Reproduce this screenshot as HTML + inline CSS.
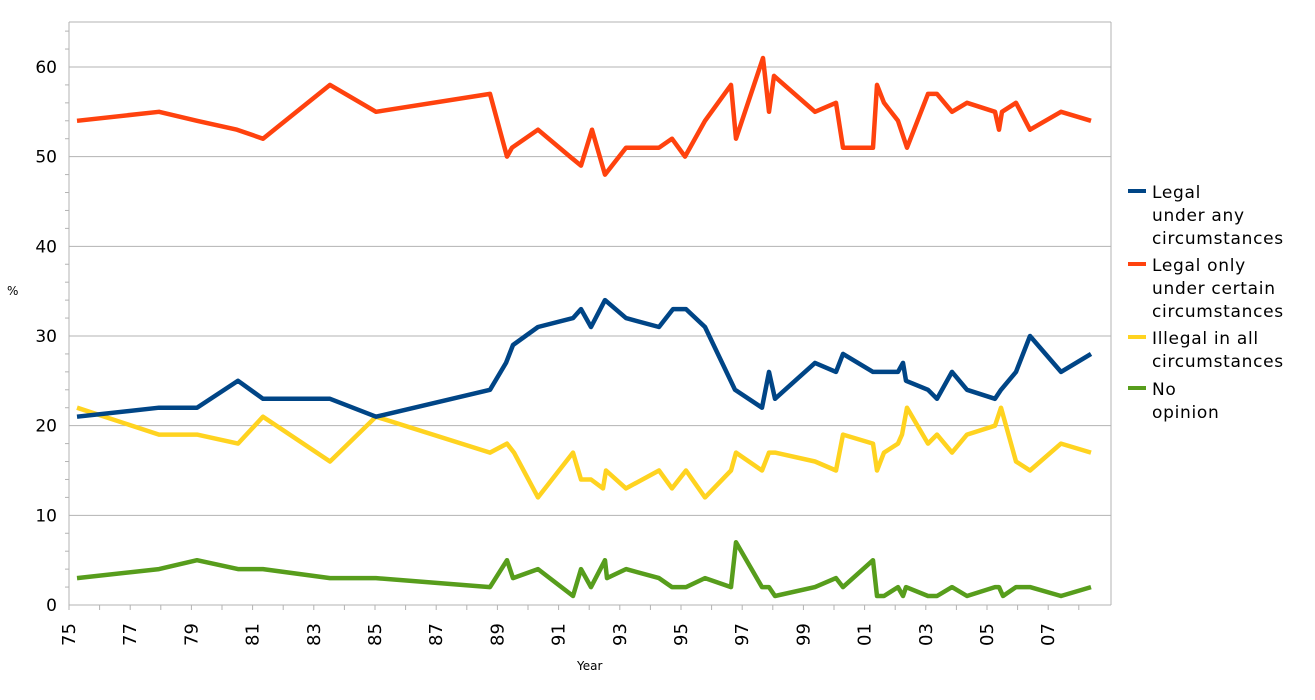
<!DOCTYPE html>
<html><head><meta charset="utf-8"><style>
body{margin:0;background:#fff;}
svg{display:block;font-family:"DejaVu Sans","Liberation Sans",sans-serif;}
</style></head><body>
<svg id="s" width="1315" height="700" xmlns="http://www.w3.org/2000/svg">
<rect width="1315" height="700" fill="#fff"/>
<g id="grid" stroke="#b3b3b3" stroke-width="1"></g>
<g id="series" fill="none" stroke-width="4.5" stroke-linejoin="round"></g>
<g font-size="17" letter-spacing="0.7" fill="#000">
<line x1="1128" y1="191" x2="1146" y2="191" stroke="#004586" stroke-width="4"/>
<text x="1152" y="198">Legal</text><text x="1152" y="221">under any</text><text x="1152" y="244">circumstances</text>
<line x1="1128" y1="264" x2="1146" y2="264" stroke="#ff420e" stroke-width="4"/>
<text x="1152" y="271">Legal only</text><text x="1152" y="294">under certain</text><text x="1152" y="317">circumstances</text>
<line x1="1128" y1="337" x2="1146" y2="337" stroke="#ffd320" stroke-width="4"/>
<text x="1152" y="344">Illegal in all</text><text x="1152" y="367">circumstances</text>
<line x1="1128" y1="388" x2="1146" y2="388" stroke="#579d1c" stroke-width="4"/>
<text x="1152" y="395">No</text><text x="1152" y="418">opinion</text>
</g>
<text x="7" y="295" font-size="12">%</text>
<text x="577" y="670" font-size="12">Year</text>
</svg>
<script>
const NS="http://www.w3.org/2000/svg";
const s=document.getElementById('s'),g=document.getElementById('grid'),se=document.getElementById('series');
function el(p,t,a){const e=document.createElementNS(NS,t);for(const k in a)e.setAttribute(k,a[k]);p.appendChild(e);return e;}
const L=69,R=1111,T=22,B=605,Y=v=>B-v*8.967;
for(let v=0;v<=60;v+=10){el(g,'line',{x1:L,x2:R,y1:Y(v),y2:Y(v)});
 const t=el(s,'text',{x:L-12,y:Y(v)+6,'font-size':17,'text-anchor':'end'});t.textContent=v;}
for(let v=0;v<=65;v+=2){if(v%10)el(g,'line',{x1:L-4,x2:L,y1:Y(v),y2:Y(v)});}
el(g,'line',{x1:L,x2:L,y1:T,y2:B+5});el(g,'line',{x1:R,x2:R,y1:T,y2:B});el(g,'line',{x1:L,x2:R,y1:T,y2:T});
for(let i=0;i<=33;i++){const x=L+i*30.6;el(g,'line',{x1:x,x2:x,y1:B,y2:B+5});
 if(i%2==0){const yr=(75+i)%100;const lab=(yr<10?'0':'')+yr;const t=el(s,'text',{'font-size':18,transform:`translate(${x+6},${B+41}) rotate(-90)`});t.textContent=lab;}}
const D={
"#ff420e":[[77,54],[159,55],[197,54],[237,53],[263,52],[330,58],[376,55],[490,57],[507,50],[512,51],[538,53],[570,50],[581,49],[592,53],[605,48],[626,51],[659,51],[672,52],[685,50],[705,54],[731,58],[736,52],[763,61],[769,55],[774,59],[815,55],[836,56],[843,51],[873,51],[877,58],[884,56],[898,54],[907,51],[928,57],[937,57],[952,55],[967,56],[995,55],[999,53],[1002,55],[1016,56],[1030,53],[1061,55],[1091,54]],
"#004586":[[77,21],[159,22],[197,22],[238,25],[263,23],[330,23],[376,21],[490,24],[506,27],[513,29],[538,31],[573,32],[581,33],[591,31],[605,34],[626,32],[659,31],[673,33],[686,33],[705,31],[735,24],[762,22],[769,26],[775,23],[815,27],[836,26],[843,28],[873,26],[898,26],[903,27],[906,25],[928,24],[937,23],[952,26],[967,24],[995,23],[1001,24],[1016,26],[1030,30],[1061,26],[1091,28]],
"#ffd320":[[77,22],[159,19],[197,19],[238,18],[263,21],[330,16],[376,21],[490,17],[507,18],[514,17],[538,12],[573,17],[581,14],[591,14],[603,13],[606,15],[626,13],[659,15],[672,13],[686,15],[705,12],[731,15],[736,17],[762,15],[769,17],[775,17],[815,16],[836,15],[843,19],[873,18],[877,15],[884,17],[898,18],[902,19],[907,22],[928,18],[937,19],[952,17],[967,19],[995,20],[1001,22],[1016,16],[1030,15],[1061,18],[1091,17]],
"#579d1c":[[77,3],[159,4],[197,5],[238,4],[263,4],[330,3],[376,3],[490,2],[507,5],[513,3],[538,4],[573,1],[581,4],[591,2],[605,5],[607,3],[626,4],[659,3],[672,2],[686,2],[705,3],[731,2],[736,7],[762,2],[769,2],[775,1],[815,2],[836,3],[843,2],[873,5],[877,1],[884,1],[898,2],[903,1],[906,2],[928,1],[937,1],[952,2],[967,1],[995,2],[999,2],[1003,1],[1016,2],[1030,2],[1061,1],[1091,2]]};
for(const c of ["#579d1c","#ffd320","#004586","#ff420e"])
 el(se,'polyline',{stroke:c,points:D[c].map(p=>p[0]+','+Y(p[1]).toFixed(1)).join(' ')});
</script>
</body></html>
